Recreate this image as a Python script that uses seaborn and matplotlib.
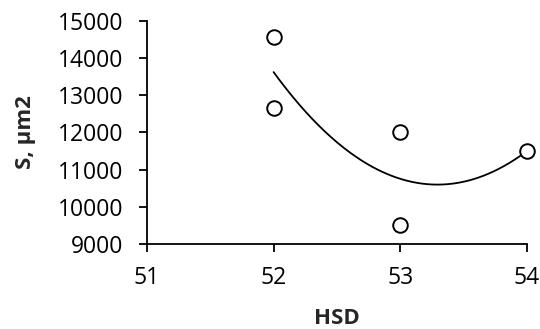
import numpy as np
import pandas as pd
import matplotlib
matplotlib.use("Agg")
import matplotlib.pyplot as plt
import seaborn as sns

# Measured samples
hsd = [52, 52, 53, 53, 54]
area = [14580, 12670, 12000, 9500, 11500]

x_ticks = [51, 52, 53, 54]
y_ticks = [9000, 10000, 11000, 12000, 13000, 14000, 15000]

df = pd.DataFrame({"HSD": hsd, "S": area})

# Second-order polynomial trend over the sampled range
coef = np.polyfit(df["HSD"], df["S"], 2)
xs = np.linspace(min(hsd), max(hsd), 200)
trend = pd.DataFrame({"HSD": xs, "S": np.polyval(coef, xs)})

sns.set_theme(style="ticks")
plt.rcParams["font.family"] = ["Open Sans", "DejaVu Sans"]

fig = plt.figure(figsize=(5.4, 3.29), dpi=100)
ax = fig.add_axes([0.272, 0.259, 0.704, 0.677])

sns.lineplot(data=trend, x="HSD", y="S", ax=ax, color="black", linewidth=1.3)
sns.scatterplot(data=df, x="HSD", y="S", ax=ax, s=110, facecolor="white",
                edgecolor="black", linewidth=1.4, zorder=3, clip_on=False)

ax.set_xlim(51, 54)
ax.set_ylim(9000, 15000)
ax.set_xticks(x_ticks)
ax.set_yticks(y_ticks)
ax.tick_params(axis="both", labelsize=16.5, colors="black", length=6, width=1.3,
               direction="out")
ax.tick_params(axis="y", pad=11)
ax.tick_params(axis="x", pad=10)

sns.despine(ax=ax)
for side in ("left", "bottom"):
    ax.spines[side].set_linewidth(1.3)
    ax.spines[side].set_color("black")

ax.set_xlabel("HSD", fontsize=16, fontweight="bold", labelpad=13)
ax.set_ylabel("S, µm2", fontsize=16, fontweight="bold", labelpad=16)

fig.savefig("out.png", dpi=100)
